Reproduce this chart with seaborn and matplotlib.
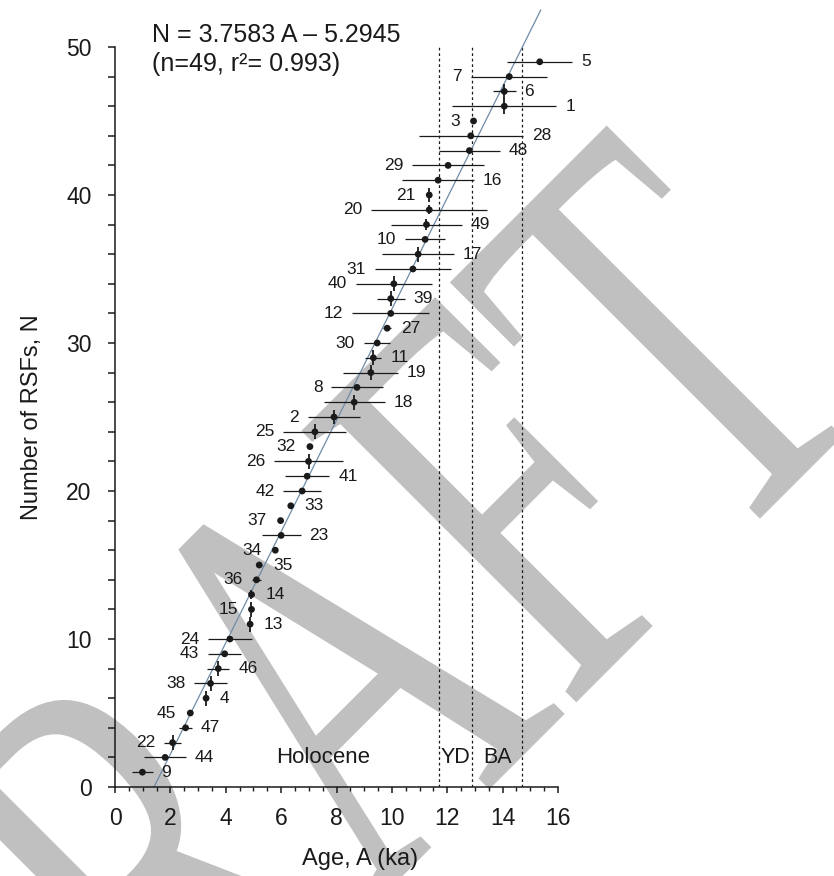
import matplotlib
matplotlib.use("Agg")
import matplotlib.pyplot as plt
import matplotlib.transforms as mtransforms
import numpy as np
import pandas as pd
import seaborn as sns
from matplotlib.font_manager import FontProperties
from matplotlib.patches import PathPatch
from matplotlib.textpath import TextPath
from matplotlib.ticker import MultipleLocator

# RSF id, ordered by cumulative number N = 1..49
rsf_id = [9, 44, 22, 47, 45, 4, 38, 46, 43, 24,
          13, 15, 14, 36, 35, 34, 23, 37, 33, 42,
          41, 26, 32, 25, 2, 18, 8, 19, 11, 30,
          27, 12, 39, 40, 31, 17, 10, 49, 20, 21,
          16, 29, 48, 28, 3, 1, 6, 7, 5]
# age (ka)
age = [0.99, 1.81, 2.08, 2.55, 2.72, 3.29, 3.45, 3.73, 3.96, 4.15,
       4.88, 4.93, 4.93, 5.11, 5.21, 5.79, 6.00, 5.98, 6.35, 6.76,
       6.94, 6.99, 7.04, 7.22, 7.91, 8.64, 8.74, 9.24, 9.33, 9.47,
       9.83, 9.96, 9.96, 10.07, 10.76, 10.95, 11.20, 11.25, 11.35, 11.35,
       11.67, 12.03, 12.80, 12.85, 12.95, 14.06, 14.06, 14.24, 15.34]
# age uncertainty (ka)
age_err = [0.37, 0.76, 0.31, 0.23, 0.0, 0.08, 0.59, 0.40, 0.60, 0.80,
           0.0, 0.05, 0.10, 0.15, 0.10, 0.0, 0.70, 0.10, 0.0, 0.68,
           0.80, 1.25, 0.0, 1.14, 0.94, 1.10, 0.93, 0.99, 0.29, 0.48,
           0.14, 1.39, 0.50, 1.38, 1.38, 1.30, 0.72, 1.28, 2.10, 0.0,
           1.30, 1.30, 1.10, 1.88, 0.0, 1.88, 0.41, 1.38, 1.18]
# vertical bars on some points
n_err = [0, 0, 0.5, 0, 0, 0.5, 0.5, 0.5, 0, 0,
         0.5, 0.5, 0.3, 0, 0, 0, 0, 0, 0, 0,
         0, 0.5, 0, 0.5, 0.5, 0.5, 0, 0.5, 0.5, 0,
         0, 0, 0.5, 0.5, 0, 0.5, 0, 0.35, 0.3, 0.5,
         0, 0, 0, 0, 0, 0.5, 0.5, 0, 0]
label_side = ["R", "R", "L", "R", "L", "R", "L", "R", "L", "L",
              "R", "L", "R", "L", "R", "L", "R", "L", "R", "L",
              "R", "L", "L", "L", "L", "R", "L", "R", "R", "L",
              "R", "L", "R", "L", "L", "R", "L", "R", "L", "L",
              "R", "L", "R", "R", "L", "R", "R", "L", "R"]

slope, intercept = 3.7583, -5.2945
fit_end_age = 15.38
period_bounds = [11.7, 12.9, 14.7]

df = pd.DataFrame({"id": rsf_id, "age": age, "age_err": age_err,
                   "n_err": n_err, "side": label_side})
df["n"] = np.arange(1, len(df) + 1)

sns.set_theme(style="ticks")
plt.rcParams["font.family"] = ["Liberation Sans", "DejaVu Sans"]
plt.rcParams["axes.linewidth"] = 1.1

fig = plt.figure(figsize=(8.34, 8.76), dpi=100)
ax = fig.add_axes([115 / 834, 89 / 876, 443 / 834, 740 / 876])
ax.set_facecolor("none")

# grey DRAFT watermark behind everything
tp = TextPath((0, 0), "DRAFT", size=1, prop=FontProperties(family="Liberation Serif"))
wm_tr = (mtransforms.Affine2D().scale(3.85, 5.90).rotate_deg(45)
         .translate(-0.081, -4.107) + fig.dpi_scale_trans)
fig.add_artist(PathPatch(tp, transform=wm_tr, facecolor="#c0c0c0",
                         edgecolor="none", zorder=-5))

ink = "#1a1a1a"

# period boundaries
ax.vlines(period_bounds, 0, 50, colors=ink, linestyles=(0, (2.2, 2.2)),
          linewidth=0.9, zorder=1)

# regression line
fit_x = np.array([-intercept / slope, fit_end_age])
ax.plot(fit_x, slope * fit_x + intercept, color="#6f8ba6", linewidth=0.9,
        clip_on=False, zorder=2)

# error bars
hb = df[df["age_err"] > 0]
ax.errorbar(hb["age"], hb["n"], xerr=hb["age_err"], fmt="none", ecolor=ink,
            elinewidth=0.9, capsize=0, clip_on=False, zorder=3)
vb = df[df["n_err"] > 0]
ax.errorbar(vb["age"], vb["n"], yerr=vb["n_err"], fmt="none", ecolor=ink,
            elinewidth=1.3, capsize=0, clip_on=False, zorder=3)

sns.scatterplot(data=df, x="age", y="n", ax=ax, color=ink, s=24,
                edgecolor="none", zorder=4, clip_on=False, legend=False)

# point labels
for _, r in df.iterrows():
    gap = r["age_err"] + 0.32 if r["age_err"] > 0.2 else 0.5
    if r["side"] == "R":
        ax.text(r["age"] + gap, r["n"], str(r["id"]), ha="left", va="center",
                fontsize=12.5, color=ink)
    else:
        ax.text(r["age"] - gap, r["n"], str(r["id"]), ha="right", va="center",
                fontsize=12.5, color=ink)

ax.text(1.34, 50.34, "N = 3.7583 A \u2013 5.2945", fontsize=18, color=ink,
        va="baseline", ha="left")
ax.text(1.34, 48.4, "(n=49, r\u00b2= 0.993)", fontsize=18, color=ink,
        va="baseline", ha="left")

ax.text(7.5, 1.6, "Holocene", fontsize=16, ha="center", va="baseline", color=ink)
ax.text(12.3, 1.6, "YD", fontsize=15.5, ha="center", va="baseline", color=ink)
ax.text(13.83, 1.6, "BA", fontsize=15.5, ha="center", va="baseline", color=ink)

ax.set_xlim(0, 16)
ax.set_ylim(0, 50)
ax.xaxis.set_major_locator(MultipleLocator(2))
ax.xaxis.set_minor_locator(MultipleLocator(0.5))
ax.yaxis.set_major_locator(MultipleLocator(10))
ax.yaxis.set_minor_locator(MultipleLocator(2))
ax.tick_params(axis="x", which="major", direction="out", length=4.5, width=1.1,
               labelsize=16.5, pad=10, colors=ink)
ax.tick_params(axis="x", which="minor", direction="out", length=3, width=1.0, colors=ink)
ax.tick_params(axis="y", which="both", direction="out", length=5, width=1.1,
               labelsize=16.5, pad=12, colors=ink)
for s in ["top", "right"]:
    ax.spines[s].set_visible(False)
for s in ["left", "bottom"]:
    ax.spines[s].set_color(ink)

ax.set_xlabel("Age, A (ka)", fontsize=17, color=ink)
ax.set_ylabel("Number of RSFs, N", fontsize=17, color=ink)
ax.xaxis.set_label_coords(0.553, -0.082)
ax.yaxis.set_label_coords(-0.163, 0.5)

fig.savefig("out.png", dpi=100)
